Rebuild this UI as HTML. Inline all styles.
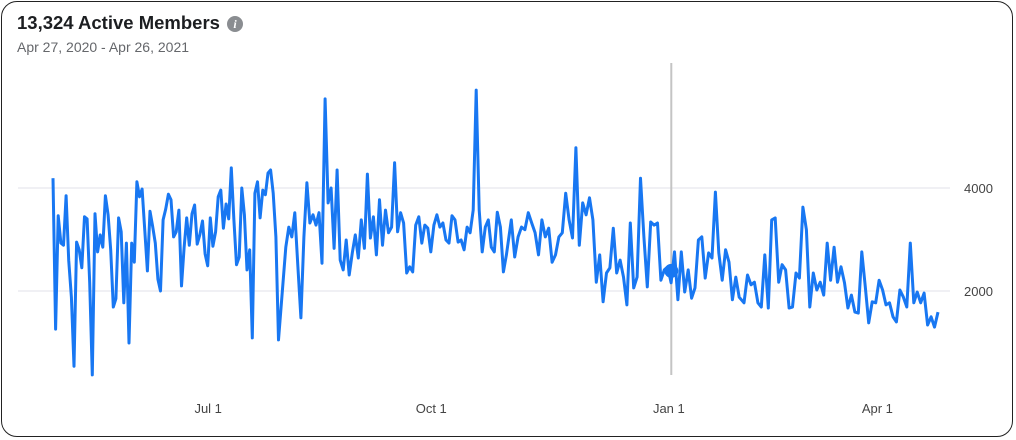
<!DOCTYPE html>
<html><head><meta charset="utf-8">
<style>
html,body{margin:0;padding:0;background:#fff;}
body{width:1016px;height:440px;position:relative;overflow:hidden;font-family:"Liberation Sans",sans-serif;}
#card{position:absolute;left:1px;top:1px;width:1012px;height:436px;border:1px solid #222;border-radius:16px;box-sizing:border-box;}
#title{position:absolute;left:17px;top:12px;font-size:18.5px;font-weight:bold;color:#1c1e21;}
#info{position:absolute;left:227px;top:16px;width:16px;height:16px;border-radius:50%;background:#8a8d91;color:#fff;font-size:12px;font-weight:bold;text-align:center;line-height:16px;font-style:italic;font-family:"Liberation Serif",serif;}
#sub{position:absolute;left:17px;top:39px;font-size:14px;color:#65676b;}
svg{position:absolute;left:0;top:0;}
</style></head><body>
<div id="card"></div>
<div id="title">13,324 Active Members</div>
<div id="info">i</div>
<div id="sub">Apr 27, 2020 - Apr 26, 2021</div>
<svg id="chart" width="1016" height="440"></svg>
<script>
const seg1Days=[0,93];
const seg1=[4190,1260,3460,2930,2890,3850,2600,1880,540,2950,2800,2450,3440,3400,2160,370,3500,2760,3090,2850,3850,3480,2800,1690,1850,3420,3150,1770,2930,990,2930,2560,4120,3830,3980,3170,2390,3550,3260,2930,2230,2000,3380,3590,3880,3770,3050,3150,3570,2100,2840,3420,2890,3500,3670,2910,3090,3360,2720,2490,3420,2870,3150,3830,3960,3220,3690,3400,4390,3380,2510,2660,4000,3480,2410,2800,1090,3900,4120,3420,3960,3870,4290,4350,3900,3050,1050];
const seg2Days=[96,187];
const seg2=[2850,3240,3050,3520,2470,1480,3050,4100,3320,3480,3280,3520,2540,5730,3710,4000,2830,4350,2600,2410,2990,2310,2740,3090,2640,3380,2830,4270,3030,3440,2700,3770,2890,3570,3130,3240,4490,3150,3520,3320,2350,2470,2370,3280,3440,2930,3280,3220,2760,3280,3480,3240,3320,2990,2930,3460,3380,2950,2990,2800,3240,3130,3570,5900,3570,2760,3240,3380,2850,2760,3530,3240,2370,2700];
const seg3Days=[189,283];
const seg3=[3380,2660,3050,3240,3190,3520,3320,3130,2700,3380,3050,3220,2560,2700,3050,3130,3900,3380,3030,4780,2890,3710,3480,3810,3380,2170,2700,1790,2350,2450,3220,2350,2600,2270,1730,3320,2060,2270,4190,3050,2080,3340,3280,3320,2210,2410,2470,2160,2760,1830,2760,1980,2410,1860,2060,2990,3050,2250,2740,2640,3920,2740,2210,2800,2560,1830,2270,1880];
const seg4Days=[285,365];
const seg4=[1770,2310,2120,2170,1770,1690,2700,1670,3380,3420,2170,2510,2410,1670,1690,2350,2250,3630,3190,1690,2350,2020,2170,1920,2930,2210,2850,2170,2470,2160,1670,1920,1590,1570,2760,2080,1380,1790,1770,2210,2020,1730,1770,1500,1400,2020,1880,1690,2930,1770,1980,1770,1960,1340,1500,1300,1590];
const yTicks=[2000,4000];
const xTickDays=[64,156,254,340];
const xTickLabels=["Jul 1","Oct 1","Jan 1","Apr 1"];
const hoverDay=255, hoverValue=2390;

const NS="http://www.w3.org/2000/svg";
const svg=document.getElementById('chart');
const X=d=>53+d*(938-53)/365;
const Y=v=>394-v*(394-188)/4000;
function mk(t,a){const e=document.createElementNS(NS,t);for(const k in a)e.setAttribute(k,a[k]);svg.appendChild(e);return e;}
yTicks.forEach(v=>{
  const g=mk('line',{x1:18,x2:950,y1:Y(v),y2:Y(v),stroke:'#ebebf0','stroke-width':1.5});
  
  
  const t=mk('text',{x:964,y:Y(v)+5,'font-size':13,fill:'#444','font-family':'Liberation Sans, sans-serif'});
  t.textContent=v;
  
  
});
xTickDays.forEach((d,i)=>{
  const t=mk('text',{x:X(d),y:413,'font-size':13,fill:'#444','text-anchor':'middle','font-family':'Liberation Sans, sans-serif'});
  t.textContent=xTickLabels[i];
  
  
});
const hl=mk('line',{x1:X(hoverDay),x2:X(hoverDay),y1:63,y2:375,stroke:'#c4c4c4','stroke-width':2});


let pts=[];
[[seg1,seg1Days],[seg2,seg2Days],[seg3,seg3Days],[seg4,seg4Days]].forEach(([vals,dr])=>{
  vals.forEach((v,i)=>{const d=dr[0]+(dr[1]-dr[0])*i/(vals.length-1);pts.push(X(d).toFixed(1)+','+Y(v).toFixed(1));});
});
const pl=mk('polyline',{points:pts.join(' '),fill:'none',stroke:'#1877f2','stroke-width':3,'stroke-linejoin':'round'});


const dot=mk('circle',{cx:X(hoverDay),cy:Y(hoverValue),r:7,fill:'#1877f2'});


</script>
</body></html>
